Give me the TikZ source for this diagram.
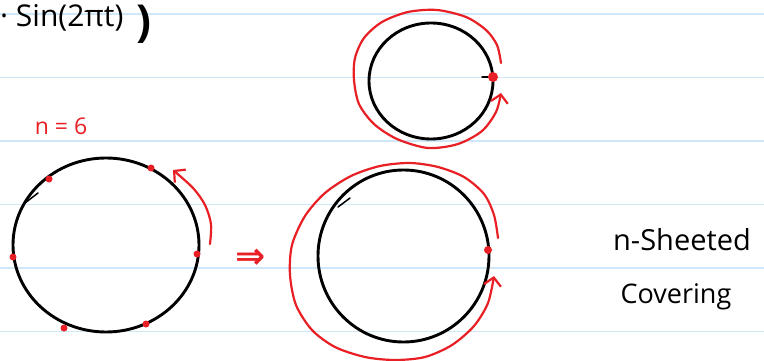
\documentclass[tikz,border=0pt]{standalone}
\usepackage{fontspec}
\setmainfont{Open Sans}
\newfontfamily\symfont{DejaVu Sans}
\usetikzlibrary{arrows.meta}
\definecolor{rulecol}{RGB}{206,232,250}
\definecolor{inkred}{RGB}{232,32,38}

\begin{document}
\begin{tikzpicture}[x=1pt,y=-1pt,
  ink/.style={line width=2.9pt,line cap=round,line join=round},
  redink/.style={draw=inkred,line width=2.2pt,line cap=round,line join=round},
  redpt/.style={circle,fill=inkred,inner sep=0pt,minimum size=#1},
  redpt/.default=7pt,
  handarrow/.style={-{Straight Barb[length=8pt,width=17pt]}}]
\useasboundingbox (0,0) rectangle (764,361);
\fill[white] (0,0) rectangle (764,361);
% notebook ruling
\foreach \y in {14,77.5,141,204.5,268,331.5}{\draw[rulecol,line width=1.6pt] (0,\y)--(764,\y);}

% heading leftover
\node[anchor=base west,inner sep=0pt,font=\fontsize{30}{34}\selectfont] (sinexpr) at (0,27) {· Sin(2πt)};
\node[anchor=base west,inner sep=0pt,font=\bfseries\fontsize{44}{48}\selectfont] (bigparen) at (136,37) {)};

% circle with n points
\node[text=inkred,font=\fontsize{23}{26}\selectfont] (nlabel) at (61,126) {n = 6};
\draw[ink] (106,245) ellipse [x radius=93pt, y radius=87pt];
\draw[ink,line width=1.5pt] (25,203)--(38,193);
\foreach \px/\py [count=\i] in {151/168,49/179,13/257,197/254,146/324,64/328}{\node[redpt] (pt\i) at (\px,\py) {};}
\draw[redink,handarrow] plot[smooth] coordinates {(210,244) (211,224) (205,205) (193,188) (173,170)};

\node[text=inkred,font=\symfont\bfseries\fontsize{36}{36}\selectfont] (implies) at (251,259) {⇒};

% base circle, one turn
\draw[ink] (431,81) ellipse [x radius=62pt, y radius=58pt];
\draw[ink,line width=1.5pt] (482,77)--(488,77);
\node[redpt=10pt] (topdot) at (493,77) {};
\draw[redink,handarrow] plot[smooth] coordinates {(501,63) (497,45) (486,30) (466,17) (437,10) (408,12) (382,22) (364,38) (355,58) (354,80) (359,104) (374,124) (397,139) (428,148) (458,144) (482,131) (496,112) (501,93)};

% covering circle, n turns
\draw[ink] (403.5,256) ellipse [x radius=85.5pt, y radius=86pt];
\draw[ink,line width=1.5pt] (338,207)--(350,198);
\node[redpt=8pt] (lowdot) at (488,250) {};
\draw[redink,handarrow] plot[smooth] coordinates {(498,238) (494,215) (484,194) (464,177) (438,167) (410,163) (380,166) (351,176) (325,193) (305,216) (292,245) (290,275) (296,305) (312,330) (335,347) (365,357) (395,360) (425,357) (452,345) (474,326) (488,303) (494,276)};

\node[anchor=base,inner sep=0pt,font=\fontsize{29}{32}\selectfont] (sheeted) at (682,250) {n-Sheeted};
\node[anchor=base,inner sep=0pt,font=\fontsize{27}{32}\selectfont] (covering) at (676,303) {Covering};
\end{tikzpicture}
\end{document}
